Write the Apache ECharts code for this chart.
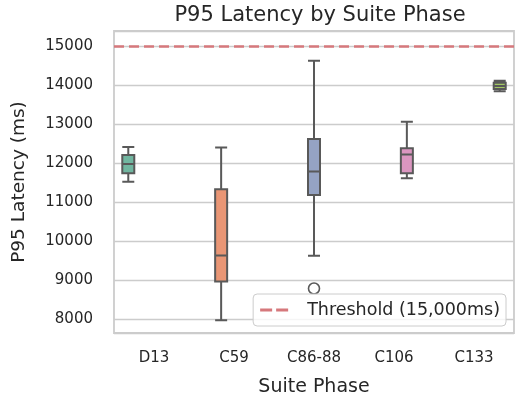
<!DOCTYPE html>
<html>
<head>
<meta charset="utf-8">
<script src="https://cdn.jsdelivr.net/npm/echarts@6/dist/echarts.min.js"></script>
<style>html,body{margin:0;padding:0;background:#fff}#chart{width:517px;height:402px}</style>
</head>
<body>
<div id="chart"></div>
<script>
// ---- data ----
const categories = ['D13', 'C59', 'C86-88', 'C106', 'C133'];
const whiskerLow  = [11520, 7970, 9620, 11610, 13840];
const q1          = [11735, 8960, 11180, 11735, 13900];
const median      = [11975, 9625, 11780, 12220, 13975];
const q3          = [12205, 11325, 12615, 12375, 14060];
const whiskerHigh = [12410, 12400, 14625, 13060, 14110];
const outlierCats   = ['C86-88'];
const outlierValues = [8780];
const thresholdValue = 15000;
const thresholdName = 'Threshold (15,000ms)';
const boxColors = ['#71b6a0', '#e99675', '#95a3c3', '#db96c0', '#a2c764'];

// seaborn dodges each hue inside its category: use a fine hidden axis for positions
const SLOTS = 57, FIRST = 2, STEP = 13;
const slotLabels = Array.from({length: SLOTS}, (_, i) => String(i));
const slotOf = c => FIRST + STEP * categories.indexOf(c);

const boxData = Array.from({length: SLOTS}, () => '-');
categories.forEach((c, i) => {
  boxData[slotOf(c)] = {
    value: [whiskerLow[i], q1[i], median[i], q3[i], whiskerHigh[i]],
    itemStyle: {color: boxColors[i]}
  };
});
const outlierData = outlierCats.map((c, i) => [slotOf(c), outlierValues[i]]);

const FONT = 'DejaVu Sans';
const TXT = '#262626';
const LINE_RED = '#d6787c';
const chart = echarts.init(document.getElementById('chart'), null, {renderer: 'canvas'});
chart.setOption({
  animation: false,
  backgroundColor: '#ffffff',
  title: {
    text: 'P95 Latency by Suite Phase',
    left: 315, top: 0, textAlign: 'center',
    textStyle: {fontFamily: FONT, fontSize: 21, fontWeight: 'normal', color: TXT}
  },
  grid: {left: 114, right: 3, top: 31, bottom: 69, show: true,
         borderColor: '#cccccc', borderWidth: 1.8, backgroundColor: 'transparent'},
  legend: {
    data: [{name: thresholdName, icon: 'path://M0,0h12v3h-12z M16,0h12v3h-12z'}],
    right: 11, bottom: 76,
    orient: 'horizontal',
    itemWidth: 28, itemHeight: 3,
    padding: [7, 6, 7, 7],
    backgroundColor: 'rgba(255,255,255,0.8)',
    borderColor: '#cccccc', borderWidth: 1, borderRadius: 4,
    itemStyle: {color: LINE_RED},
    textStyle: {fontFamily: FONT, fontSize: 17.5, color: TXT, padding: [0, 0, 0, 14]}
  },
  xAxis: [
    {
      type: 'category', data: categories, boundaryGap: true,
      axisLine: {show: false}, axisTick: {show: false}, splitLine: {show: false},
      axisLabel: {fontFamily: FONT, fontSize: 15, color: TXT, margin: 18},
      name: 'Suite Phase', nameLocation: 'middle', nameGap: 45,
      nameTextStyle: {fontFamily: FONT, fontSize: 19, color: TXT}
    },
    {
      type: 'category', data: slotLabels, boundaryGap: false, show: false
    }
  ],
  yAxis: {
    type: 'value', min: 7640, max: 15385,
    minInterval: 1000, maxInterval: 1000, splitNumber: 8,
    axisLine: {show: false}, axisTick: {show: false},
    splitLine: {show: true, lineStyle: {color: '#cccccc', width: 1.4}},
    axisLabel: {
      fontFamily: FONT, fontSize: 15, color: TXT, margin: 21,
      showMinLabel: false, showMaxLabel: false,
      formatter: v => (v % 1000 === 0 ? String(v) : '')
    },
    name: 'P95 Latency (ms)', nameLocation: 'middle', nameGap: 85,
    nameTextStyle: {fontFamily: FONT, fontSize: 18.5, color: TXT}
  },
  series: [
    {
      type: 'boxplot', xAxisIndex: 1, data: boxData,
      boxWidth: [12, 12],
      itemStyle: {borderColor: '#595959', borderWidth: 2},
      emphasis: {disabled: true}, silent: true, z: 3
    },
    {
      type: 'scatter', xAxisIndex: 1, data: outlierData,
      symbol: 'circle', symbolSize: 11,
      itemStyle: {color: '#ffffff', borderColor: '#595959', borderWidth: 1.6, opacity: 1},
      silent: true, z: 3
    },
    {
      name: thresholdName, type: 'line', xAxisIndex: 0, data: [],
      symbol: 'none', color: LINE_RED,
      lineStyle: {color: LINE_RED, width: 2.5, type: [10, 5]},
      markLine: {
        silent: true, symbol: 'none', label: {show: false},
        lineStyle: {color: LINE_RED, width: 2.5, type: [10, 5]},
        data: [{yAxis: thresholdValue}]
      },
      z: 2
    }
  ]
});
</script>
</body>
</html>
